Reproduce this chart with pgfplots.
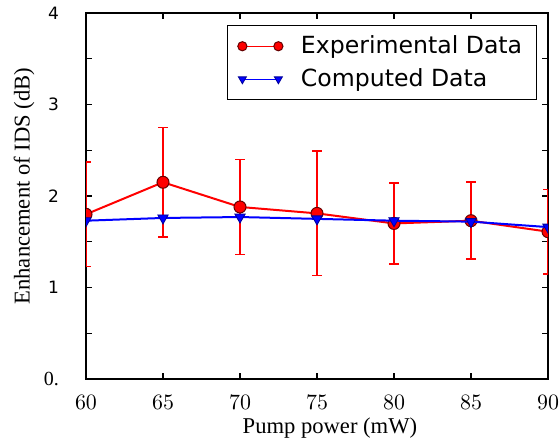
\documentclass[border=0pt]{standalone}
\usepackage{fontspec}
\setmainfont{Liberation Serif}
\newfontfamily\dejavu{DejaVu Sans}
\usepackage{pgfplots}
\pgfplotsset{compat=1.18}

\begin{document}
\begin{tikzpicture}
% fixed frame: the reference crops the last x label at its right edge
\path[use as bounding box] (-43pt,-31.5pt) rectangle (237pt,189.5pt);
\begin{axis}[
    scale only axis,
    width=231pt, height=183pt,
    xmin=60, xmax=90,
    ymin=0, ymax=4,
    xtick={60,65,...,90},
    ytick={0,0.5,...,4},
    yticklabels={{\rmfamily\fontsize{10}{12}\selectfont 0.},,1,,2,,3,,4},
    tick align=inside,
    major tick length=3pt,
    tick style={black, line width=0.6pt},
    axis line style={black, line width=1pt},
    xticklabel style={font=\fontsize{11}{13}\selectfont, yshift=-4.5pt},
    yticklabel style={font=\dejavu\fontsize{8.5}{10}\selectfont, xshift=-10pt},
    xlabel={Pump power (mW)},
    ylabel={Enhancement of IDS (dB)},
    label style={font=\fontsize{11.3}{13}\selectfont, inner sep=0pt},
    xlabel style={at={(axis description cs:0.528,-0.133)}, anchor=center},
    ylabel style={at={(axis description cs:-0.134,0.527)}, anchor=center},
    clip marker paths=true,
    legend style={
        at={(0.976,0.967)}, anchor=north east,
        draw=black, line width=0.7pt,
        font=\dejavu\fontsize{11.8}{14}\selectfont,
        row sep=2pt, inner xsep=5pt, inner ysep=3pt,
        /tikz/every odd column/.append style={column sep=7pt},
    },
    legend cell align=left,
    legend image code/.code={
        \draw[line width=0.6pt, mark size=2.3pt] plot coordinates {(0pt,0pt) (18pt,0pt)};
    },
]

\addplot[
    color=red, line width=1pt,
    mark=*, mark size=3pt,
    mark options={fill=red, draw=black!60!red, line width=0.5pt},
    error bars/.cd, y dir=both, y explicit,
    error bar style={draw=red, line width=0.8pt},
    error mark options={rotate=90, draw=red, mark size=2.5pt, line width=0.8pt},
    ]
    coordinates {
    (60,1.80) +- (0,0.57)
    (65,2.15) +- (0,0.60)
    (70,1.88) +- (0,0.52)
    (75,1.81) +- (0,0.68)
    (80,1.70) +- (0,0.44)
    (85,1.73) +- (0,0.42)
    (90,1.61) +- (0,0.46)
    };
\addlegendentry{Experimental Data}

\addplot[
    color=blue, line width=1pt,
    mark=triangle*, mark size=3pt,
    mark options={rotate=180, fill=blue, draw=blue!60!black, line width=0.4pt},
    ]
    coordinates {
    (60,1.73)(65,1.76)(70,1.77)(75,1.75)(80,1.73)(85,1.72)(90,1.66)
    };
\addlegendentry{Computed Data}

\end{axis}
\end{tikzpicture}
\end{document}
